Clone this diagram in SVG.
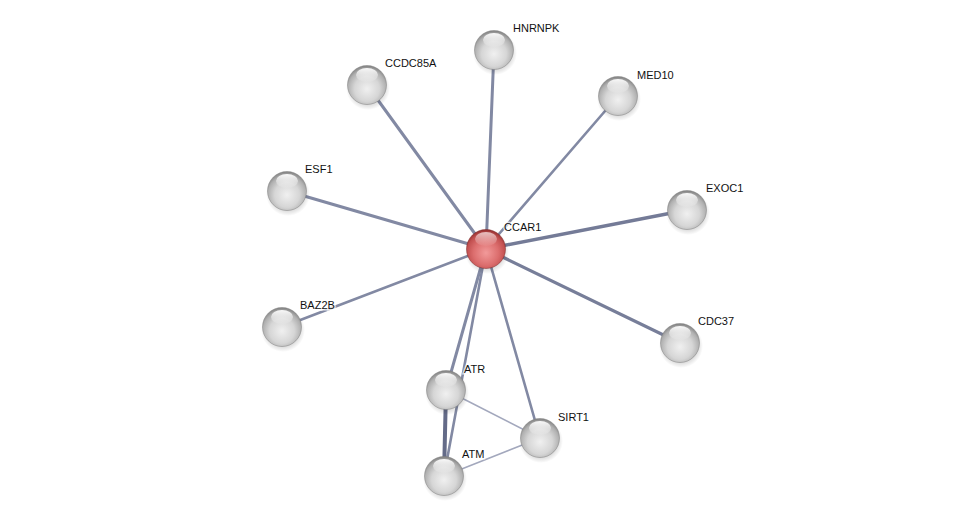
<svg xmlns="http://www.w3.org/2000/svg" width="975" height="521" viewBox="0 0 975 521">
<defs>
<radialGradient id="gGrey" cx="0.5" cy="0.6" r="0.58">
<stop offset="0" stop-color="#f0f0f0"/>
<stop offset="0.55" stop-color="#d6d6d6"/>
<stop offset="0.85" stop-color="#b0b0b0"/>
<stop offset="1" stop-color="#888888"/>
</radialGradient>
<radialGradient id="gRed" cx="0.5" cy="0.6" r="0.58">
<stop offset="0" stop-color="#f29a9a"/>
<stop offset="0.55" stop-color="#dc6e6e"/>
<stop offset="0.85" stop-color="#c25050"/>
<stop offset="1" stop-color="#9a3333"/>
</radialGradient>
<linearGradient id="gShine" x1="0" y1="0" x2="0" y2="1">
<stop offset="0" stop-color="#ffffff" stop-opacity="0.95"/>
<stop offset="1" stop-color="#ffffff" stop-opacity="0.05"/>
</linearGradient>
<radialGradient id="gShadow" cx="0.5" cy="0.5" r="0.5">
<stop offset="0.6" stop-color="#000" stop-opacity="0.22"/>
<stop offset="1" stop-color="#000" stop-opacity="0"/>
</radialGradient>
<g id="node">
<circle cx="1" cy="3" r="22" fill="url(#gShadow)"/>
<circle r="19.5" fill="url(#gGrey)" stroke="#7e7e7e" stroke-width="0.5"/>
<ellipse cx="0" cy="-10" rx="11" ry="7" fill="url(#gShine)"/>
</g>
</defs>
<style>
.e{stroke:#8289a3;fill:none;stroke-linecap:round}
.t{font-family:"Liberation Sans",Arial,sans-serif;font-size:11px;fill:#111;paint-order:stroke;stroke:#fff;stroke-width:3px;stroke-opacity:0.7}
</style>
<rect width="975" height="521" fill="#fff"/>
<g id="edges">
<line class="e" x1="486" y1="249" x2="494" y2="50" stroke-width="3"/>
<line class="e" x1="486" y1="249" x2="367" y2="85" stroke-width="3"/>
<line class="e" x1="486" y1="249" x2="618" y2="96" stroke-width="2.6"/>
<line class="e" x1="486" y1="249" x2="287" y2="191" stroke-width="3"/>
<line class="e" x1="486" y1="249" x2="687" y2="210" stroke-width="3.4" style="stroke:#747b97"/>
<line class="e" x1="486" y1="249" x2="282" y2="327" stroke-width="2.6"/>
<line class="e" x1="486" y1="249" x2="680" y2="343" stroke-width="3.2" style="stroke:#777e99"/>
<line class="e" x1="486" y1="249" x2="446" y2="390" stroke-width="3"/>
<line class="e" x1="486" y1="249" x2="444" y2="476" stroke-width="2.6"/>
<line class="e" x1="486" y1="249" x2="540" y2="438" stroke-width="2.6"/>
<line class="e" x1="446" y1="390" x2="444" y2="476" stroke-width="4" style="stroke:#646b88"/>
<line class="e" x1="446" y1="390" x2="540" y2="438" stroke-width="1.6" style="stroke:#a3a8bd"/>
<line class="e" x1="444" y1="476" x2="540" y2="438" stroke-width="1.6" style="stroke:#a3a8bd"/>
</g>
<g id="n-HNRNPK"><use href="#node" x="494" y="50"/><text class="t" x="513" y="32">HNRNPK</text></g>
<g id="n-CCDC85A"><use href="#node" x="367" y="85"/><text class="t" x="385" y="67">CCDC85A</text></g>
<g id="n-MED10"><use href="#node" x="618" y="96"/><text class="t" x="637" y="79">MED10</text></g>
<g id="n-ESF1"><use href="#node" x="287" y="191"/><text class="t" x="305" y="173">ESF1</text></g>
<g id="n-EXOC1"><use href="#node" x="687" y="210"/><text class="t" x="706" y="192">EXOC1</text></g>
<g id="n-BAZ2B"><use href="#node" x="282" y="327"/><text class="t" x="300" y="309">BAZ2B</text></g>
<g id="n-CDC37"><use href="#node" x="680" y="343"/><text class="t" x="698" y="325">CDC37</text></g>
<g id="n-ATR"><use href="#node" x="446" y="390"/><text class="t" x="464" y="373">ATR</text></g>
<g id="n-SIRT1"><use href="#node" x="540" y="438"/><text class="t" x="558" y="421">SIRT1</text></g>
<g id="n-ATM"><use href="#node" x="444" y="476"/><text class="t" x="462" y="458">ATM</text></g>
<g id="n-CCAR1">
<circle cx="487" cy="252" r="22" fill="url(#gShadow)"/>
<circle cx="486" cy="249" r="19.5" fill="url(#gRed)" stroke="#7a2a2a" stroke-width="0.5"/>
<ellipse cx="486" cy="239" rx="11" ry="7" fill="url(#gShine)" opacity="0.7"/>
<text class="t" x="504" y="231">CCAR1</text>
</g>
</svg>
